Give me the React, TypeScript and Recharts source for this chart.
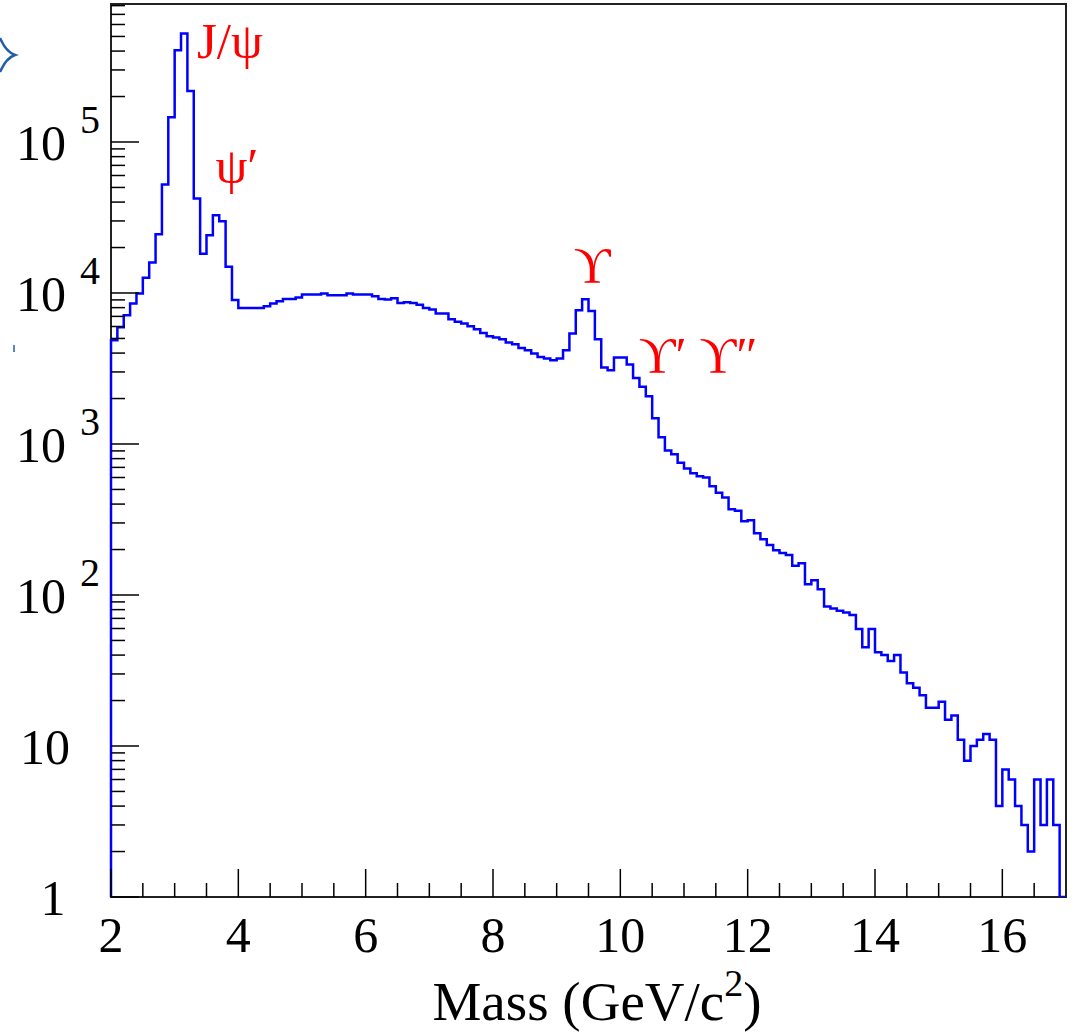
import { LineChart, Line, XAxis, YAxis, ReferenceArea, ReferenceDot } from "recharts";

// dimuon invariant mass spectrum, 0.1 GeV bins from 2 to 17 GeV/c^2
const massEdges = Array.from({ length: 150 }, (_, i) => (20 + i) / 10);

const counts = [
  4870, 5930, 7130, 8510, 9910, 12600, 15900, 24500, 52200, 146000,
  405000, 522000, 218000, 42200, 18200, 24100, 32700, 29900, 14900, 9000,
  7960, 7960, 7960, 7960, 8170, 8510, 8820, 9140, 9140, 9330,
  9770, 9770, 9770, 9910, 9660, 9660, 9660, 9910, 9770, 9770,
  9770, 9520, 9140, 9060, 9230, 8590, 8680, 8600, 8360, 7950,
  7770, 7310, 7310, 6700, 6440, 6280, 6030, 5760, 5440, 5170,
  5070, 4940, 4700, 4580, 4330, 4180, 3970, 3770, 3680, 3590,
  3680, 4180, 5390, 7690, 9100, 7610, 4940, 3210, 3080, 3740,
  3740, 3360, 2740, 2390, 2070, 1480, 1110, 905, 856, 750,
  689, 640, 612, 600, 526, 475, 443, 369, 361, 308,
  313, 256, 234, 214, 198, 190, 184, 156, 162, 118,
  125, 109, 84, 81.5, 78.6, 76.7, 73.6, 59.5, 45, 59.5,
  41.7, 40, 36.5, 40, 30.7, 26, 24.3, 21.7, 17.9, 17.9,
  19.6, 14.9, 15.9, 11, 8, 10, 11, 12, 11, 4,
  7, 6, 4, 3, 2, 6, 3, 6, 3, 1,
];

const xTicks = [2, 2.5, 3, 3.5, 4, 4.5, 5, 5.5, 6, 6.5, 7, 7.5, 8, 8.5, 9, 9.5, 10, 10.5, 11, 11.5, 12, 12.5, 13, 13.5, 14, 14.5, 15, 15.5, 16, 16.5];
const yTicks = [1, 10, 100, 1000, 10000, 100000].flatMap((d) => [2, 3, 4, 5, 6, 7, 8, 9].map((k) => k * d)).concat([1, 10, 100, 1000, 10000, 100000]);

const peaks = [
  { name: "J/ψ", m: 3.35, n: 358000 },
  { name: "ψ′", m: 3.64, n: 53300 },
  { name: "ϒ", m: 9.27, n: 11800 },
  { name: "ϒ′ ϒ″", m: 10.29, n: 2990 },
];

const data = [
  { m: 2, n: 1 },
  ...counts.map((n, i) => ({ m: massEdges[i], n })),
  { m: 17, n: counts[counts.length - 1] },
];

const font = "'Liberation Serif', 'DejaVu Serif', serif";

function MassTick({ x, y, payload }: any) {
  const v = payload.value;
  const major = v % 2 === 0;
  return (
    <g>
      <line x1={x} y1={y} x2={x} y2={y - (major ? 28 : 14)} stroke="#000" strokeWidth={1.5} />
      {major && (
        <text x={x} y={y + 55} textAnchor="middle" fontSize={50} fontFamily={font} fill="#000">
          {v}
        </text>
      )}
    </g>
  );
}

function CountTick({ x, y, payload }: any) {
  const v = payload.value;
  const exp = Math.round(Math.log10(v));
  const major = Math.abs(v - Math.pow(10, exp)) < 1e-6 * v;
  return (
    <g>
      <line x1={x} y1={y} x2={x + (major ? 28 : 14)} y2={y} stroke="#000" strokeWidth={1.5} />
      {major && exp === 0 && (
        <text x={x - 58} y={y + 18} textAnchor="middle" fontSize={50} fontFamily={font} fill="#000">1</text>
      )}
      {major && exp === 1 && (
        <text x={x - 91} y={y + 18} fontSize={50} fontFamily={font} fill="#000">10</text>
      )}
      {major && exp > 1 && (
        <g fontFamily={font} fill="#000">
          <text x={x - 95} y={y + 18} fontSize={50}>10</text>
          <text x={x - 31} y={y - 9} fontSize={40}>{exp}</text>
        </g>
      )}
    </g>
  );
}

function PeakLabel({ cx, cy, name }: any) {
  return (
    <text x={cx} y={cy} fontSize={51} fontFamily={font} fill="#ff0000">
      {name}
    </text>
  );
}

export default function App() {
  return (
    <div style={{ position: "absolute", left: 0, top: 0, background: "#fff" }}>
      <svg width={20} height={400} style={{ position: "absolute", left: 0, top: 0 }}>
        <path d="M0 38 Q6 52 15 55 Q6 58 0 72" fill="none" stroke="#1f5fa8" strokeWidth={2.5} />
        <line x1={14} y1={345} x2={14} y2={352} stroke="#1f5fa8" strokeWidth={1.5} />
      </svg>
      <LineChart width={1081} height={1033} data={data} margin={{ top: 4, right: 15, bottom: 0, left: 0 }}>
        <XAxis
          type="number"
          dataKey="m"
          domain={[2, 17]}
          ticks={xTicks}
          interval={0}
          height={136}
          tickSize={0}
          tickMargin={0}
          tickLine={false}
          axisLine={false}
          tick={<MassTick />}
          label={{
            content: () => (
              <text x={597} y={1020} textAnchor="middle" fontSize={55} fontFamily={font} fill="#000">
                Mass (GeV/c
                <tspan dy={-24} fontSize={38}>2</tspan>
                <tspan dy={24}>)</tspan>
              </text>
            ),
          }}
        />
        <YAxis
          scale="log"
          domain={[1, 820000]}
          allowDataOverflow
          ticks={yTicks}
          interval={0}
          width={111}
          tickSize={0}
          tickMargin={0}
          tickLine={false}
          axisLine={false}
          tick={<CountTick />}
        />
        <ReferenceArea x1={2} x2={17} y1={1} y2={820000} fill="none" stroke="#222" strokeWidth={2} fillOpacity={0} ifOverflow="visible" />
        <Line
          type="stepAfter"
          dataKey="n"
          stroke="#0000ff"
          strokeWidth={2.5}
          dot={false}
          isAnimationActive={false}
        />
        {peaks.map((p) => (
          <ReferenceDot
            key={p.name}
            x={p.m}
            y={p.n}
            r={0}
            ifOverflow="visible"
            shape={(props: any) => <PeakLabel {...props} name={p.name} />}
          />
        ))}
      </LineChart>
    </div>
  );
}
